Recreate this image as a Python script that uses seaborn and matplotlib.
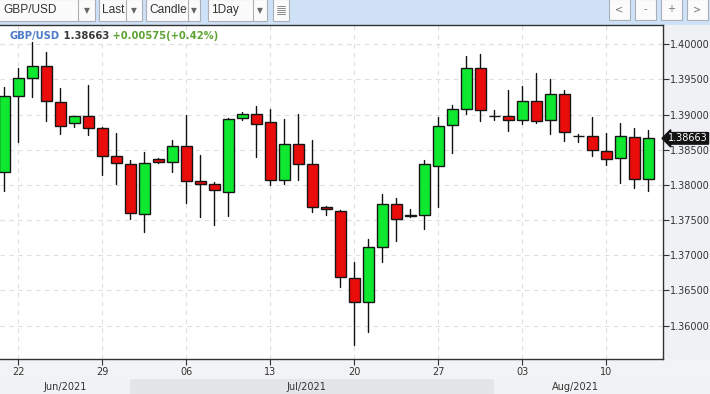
import matplotlib
matplotlib.use("Agg")
import numpy as np
import pandas as pd
import seaborn as sns
import matplotlib.pyplot as plt
from matplotlib.patches import Rectangle
from matplotlib.lines import Line2D
import matplotlib.transforms as mtransforms

# ---------------- data ----------------
opens = [1.38178, 1.39260, 1.39516, 1.39687, 1.39179, 1.38875, 1.38975, 1.38804,
         1.38406, 1.38292, 1.37594, 1.38367, 1.38320, 1.38548, 1.38050, 1.38007,
         1.37907, 1.38947, 1.39004, 1.38890, 1.38064, 1.38576, 1.38292, 1.37684,
         1.37637, 1.36683, 1.36342, 1.37125, 1.37731, 1.37556, 1.37580, 1.38263,
         1.38847, 1.39075, 1.39658, 1.38975, 1.38975, 1.38927, 1.39189, 1.38918,
         1.39288, 1.38690, 1.38690, 1.38477, 1.38377, 1.38676, 1.38088]
highs = [1.39388, 1.39658, 1.40028, 1.39886, 1.39374, 1.38980, 1.39421, 1.38819,
         1.38733, 1.38349, 1.38463, 1.38377, 1.38638, 1.38994, 1.38424, 1.38036,
         1.38947, 1.39036, 1.39126, 1.39079, 1.38937, 1.39008, 1.38638, 1.37702,
         1.37650, 1.36901, 1.37238, 1.37879, 1.37808, 1.37656, 1.38353, 1.38961,
         1.39132, 1.39833, 1.39858, 1.39060, 1.39345, 1.39406, 1.39587, 1.39502,
         1.39345, 1.38727, 1.38961, 1.38733, 1.38875, 1.38804, 1.38780]
lows = [1.37916, 1.38614, 1.39254, 1.38912, 1.38727, 1.38827, 1.38713, 1.38144,
        1.38011, 1.37517, 1.37332, 1.38306, 1.38186, 1.37737, 1.37546, 1.37438,
        1.37560, 1.38922, 1.38400, 1.38001, 1.38016, 1.38064, 1.37623, 1.37574,
        1.36549, 1.35720, 1.35909, 1.36905, 1.37204, 1.37546, 1.37375, 1.37680,
        1.38457, 1.39004, 1.38904, 1.38922, 1.38770, 1.38861, 1.38875, 1.38727,
        1.38628, 1.38614, 1.38414, 1.38286, 1.38030, 1.37964, 1.37916]
closes = [1.39260, 1.39516, 1.39687, 1.39189, 1.38833, 1.38975, 1.38804, 1.38414,
          1.38306, 1.37603, 1.38306, 1.38320, 1.38548, 1.38050, 1.38007, 1.37922,
          1.38932, 1.39004, 1.38870, 1.38068, 1.38576, 1.38292, 1.37694, 1.37656,
          1.36697, 1.36342, 1.37125, 1.37731, 1.37523, 1.37580, 1.38292, 1.38833,
          1.39075, 1.39658, 1.39060, 1.38975, 1.38918, 1.39189, 1.38904, 1.39288,
          1.38747, 1.38690, 1.38491, 1.38363, 1.38690, 1.38088, 1.38663]

tick_pos = [1, 7, 13, 19, 25, 31, 37, 43]
tick_labels = ["22", "29", "06", "13", "20", "27", "03", "10"]
price_ticks = [1.36, 1.365, 1.37, 1.375, 1.38, 1.385, 1.39, 1.395, 1.40]
months = ["Jun/2021", "Jul/2021", "Aug/2021"]
month_edges = [-0.32, 8.96, 34.96, 47.04]
last_price = 1.38663
change_text = "+0.00575(+0.42%)"
symbol = "GBP/USD"

# ---------------- style ----------------
sns.set_theme(style="white")
plt.rcParams["font.family"] = ["DejaVu Sans"]

W, H = 710, 394
fig = plt.figure(figsize=(W / 100, H / 100), dpi=100, facecolor="#f1f2f4")


def frect(x0, y0, x1, y1, **kw):
    r = Rectangle((x0 / W, 1 - y1 / H), (x1 - x0) / W, (y1 - y0) / H,
                  transform=fig.transFigure, **kw)
    fig.add_artist(r)
    return r


def ftext(x, y, s, **kw):
    return fig.text(x / W, 1 - y / H, s, **kw)


# toolbar
frect(0, 0, W, 25, facecolor="#cfe1f7", edgecolor="none", zorder=0)
for x0, x1, sep, label in [(-5, 95, 78, "GBP/USD"), (99, 142, 126, "Last"),
                           (146, 200, 188, "Candle"), (208, 267, 253, "1Day")]:
    frect(x0, -1, x1, 21, facecolor="#fbfbfb", edgecolor="#a9b0b8", lw=0.8, zorder=1)
    fig.add_artist(Line2D([sep / W, sep / W], [1 - 0 / H, 1 - 21 / H],
                          transform=fig.transFigure, color="#a9b0b8", lw=0.8, zorder=2))
    ftext(x0 + 8 if x0 < 0 else x0 + 3, 10, label, fontsize=8.6, color="#333333",
          va="center", ha="left", family=["Liberation Sans", "DejaVu Sans"], zorder=3)
    ftext((sep + x1) / 2, 10.5, "▼", fontsize=5.5, color="#666666", va="center",
          ha="center", zorder=3)
frect(273, -1, 289, 21, facecolor="#fbfbfb", edgecolor="#a9b0b8", lw=0.8, zorder=1)
for yy in [6, 8, 10, 12, 14]:
    fig.add_artist(Line2D([277 / W, 285 / W], [1 - yy / H, 1 - yy / H],
                          transform=fig.transFigure, color="#777777", lw=0.6, zorder=2))
for x0, lab in [(609, "<"), (635, "-"), (661, "+"), (687, ">")]:
    frect(x0, -1, x0 + 21, 20, facecolor="#fbfbfb", edgecolor="#a9b0b8", lw=0.8, zorder=1)
    ftext(x0 + 10.5, 9.5, lab, fontsize=7, color="#777777", va="center", ha="center",
          zorder=3)

# right price panel and bottom rows
frect(663, 25, W, 359, facecolor="#eff1f4", edgecolor="none", zorder=0)
frect(0, 359, W, 379, facecolor="#f2f3f5", edgecolor="none", zorder=0)

# ---------------- main axes ----------------
ax = fig.add_axes([0, 1 - 359 / H, 663 / W, (359 - 25) / H])
ax.set_facecolor("white")

df = pd.DataFrame({"o": opens, "h": highs, "l": lows, "c": closes})
df["i"] = np.arange(len(df))

wick = pd.concat([df[["i", "l"]].rename(columns={"l": "price"}),
                  df[["i", "h"]].rename(columns={"h": "price"})], ignore_index=True)
sns.lineplot(data=wick, x="i", y="price", units="i", estimator=None,
             color="#111111", lw=1.0, ax=ax, zorder=2, legend=False)

body_bottom = np.minimum(df["o"], df["c"])
body_height = np.abs(df["c"] - df["o"])
colors = ["#0ee82e" if c > o else ("#ea0b0b" if c < o else "#111111")
          for o, c in zip(df["o"], df["c"])]
ax.bar(df["i"], body_height, bottom=body_bottom, width=0.84, color=colors,
       edgecolor="#161616", linewidth=1.0, zorder=3)

ax.set_xlim(-0.32, 47.04)
ax.set_ylim(1.35526, 1.402747)
ax.set_xlabel("")
ax.set_ylabel("")

ax.set_yticks(price_ticks)
ax.set_yticklabels([f"{v:.5f}" for v in price_ticks])
ax.yaxis.tick_right()
ax.set_xticks(tick_pos)
ax.set_xticklabels(tick_labels)
ax.tick_params(axis="y", which="both", right=True, left=False, length=4, width=0.8,
               pad=1, labelsize=7, colors="#333333", direction="out")
ax.tick_params(axis="x", which="both", bottom=True, length=4, width=0.8, pad=2,
               labelsize=7, colors="#333333", direction="out")
ax.grid(True, color="#dedede", linestyle=(0, (4, 4)), lw=0.8, zorder=0)

for side in ["top", "right", "bottom"]:
    ax.spines[side].set_visible(True)
    ax.spines[side].set_color("#333333")
    ax.spines[side].set_linewidth(1.0)
ax.spines["left"].set_visible(False)

# title line
t1 = ax.text(10 / 663, 1 - 11 / 334, symbol, transform=ax.transAxes, fontsize=7.2,
             fontweight="bold", color="#4c7cc8", va="center", ha="left")
t2 = ax.annotate(f" {last_price:.5f}", xy=(1, 0.5), xycoords=t1, va="center",
                 ha="left", fontsize=7.2, fontweight="bold", color="#3a3a3a")
ax.annotate(" " + change_text, xy=(1, 0.5), xycoords=t2, va="center", ha="left",
            fontsize=7.2, fontweight="bold", color="#5ea332")

# last price tag
trans = mtransforms.blended_transform_factory(ax.transAxes, ax.transData)
ax.text(1.0 + 5 / 663, last_price, f"{last_price:.5f}", transform=trans,
        fontsize=7, color="white", va="center", ha="left", zorder=10, clip_on=False,
        bbox=dict(boxstyle="larrow,pad=0.08", fc="#141414", ec="#141414"))

# ---------------- month band ----------------
bx = fig.add_axes([0, 0, 663 / W, (394 - 379) / H])
bx.set_xlim(-0.32, 47.04)
bx.set_ylim(0, 1)
band_colors = ["#f1f2f4", "#e3e5e8", "#f1f2f4"]
for k, m in enumerate(months):
    bx.axvspan(month_edges[k], month_edges[k + 1], color=band_colors[k], lw=0)
centers = [4.32, 21.6, 40.8]
for m, cx in zip(months, centers):
    bx.text(cx, 0.5, m, fontsize=7, color="#333333", ha="center", va="center")
bx.axis("off")
frect(663, 379, W, 394, facecolor="#f1f2f4", edgecolor="none", zorder=0)

fig.savefig("out.png", dpi=100, facecolor=fig.get_facecolor())
